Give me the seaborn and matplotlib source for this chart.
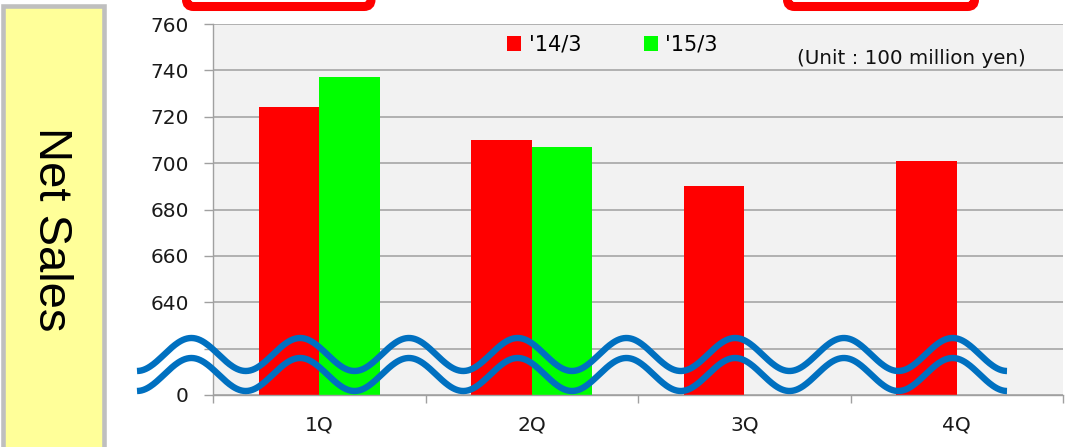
import matplotlib
matplotlib.use("Agg")
import matplotlib.pyplot as plt
import seaborn as sns
import numpy as np
import pandas as pd
from matplotlib.patches import Rectangle, FancyBboxPatch, Patch
from matplotlib.lines import Line2D
from matplotlib.transforms import Affine2D

# ---- data -------------------------------------------------------------
quarters = ["1Q", "2Q", "3Q", "4Q"]
series_labels = ["'14/3", "'15/3"]
fy14_sales = [724, 710, 690, 701]
fy15_sales = [737, 707]          # only the first two quarters reported
y_ticks = [600, 620, 640, 660, 680, 700, 720, 740, 760]
y_tick_labels = ["0", "", "640", "660", "680", "700", "720", "740", "760"]
bar_colors = ["#FF0000", "#00FF00"]

rows = [(q, series_labels[0], v) for q, v in zip(quarters, fy14_sales)]
rows += [(q, series_labels[1], v) for q, v in zip(quarters, fy15_sales)]
df = pd.DataFrame(rows, columns=["quarter", "fiscal", "sales"])

# ---- figure -----------------------------------------------------------
W, H = 1072, 447
fig = plt.figure(figsize=(W / 100, H / 100), dpi=100)
# pixel coordinates measured from the top-left corner of the figure
px = Affine2D().scale(1 / W, -1 / H).translate(0, 1) + fig.transFigure

ax = fig.add_axes([213 / W, 1 - 395 / H, 850 / W, 371 / H])
ax.set_facecolor("#F2F2F2")
ax.set_axisbelow(True)

sns.barplot(data=df, x="quarter", y="sales", hue="fiscal",
            order=quarters, hue_order=series_labels, palette=bar_colors,
            saturation=1, width=0.57, errorbar=None, linewidth=0,
            legend=False, ax=ax)

ax.set_xlim(-0.5, 3.5)
ax.set_ylim(600, 760)
ax.set_yticks(y_ticks)
ax.set_yticklabels(y_tick_labels)
ax.set_xticks(range(len(quarters)))
ax.set_xticklabels(quarters)
ax.set_xticks(np.arange(-0.5, len(quarters)), minor=True)
ax.set_xlabel("")
ax.set_ylabel("")

tick_grey = "#A0A0A0"
ax.tick_params(axis="y", length=6.5, width=1, color=tick_grey, pad=11,
               labelsize=14.5, labelcolor="#1A1A1A")
ax.tick_params(axis="x", which="major", length=0, pad=15,
               labelsize=14.5, labelcolor="#1A1A1A")
ax.tick_params(axis="x", which="minor", length=5.8, width=1, color=tick_grey)
ax.grid(axis="y", color="#A6A6A6", lw=1.2)
ax.grid(axis="x", visible=False)
for side in ("top", "right"):
    ax.spines[side].set_visible(False)
for side in ("left", "bottom"):
    ax.spines[side].set_color(tick_grey)
    ax.spines[side].set_linewidth(1.0)

# legend with square swatches
handles = [Patch(facecolor=c, edgecolor="none") for c in bar_colors]
ax.legend(handles, series_labels, ncol=2, loc="center left",
          bbox_to_anchor=(506.7 / W, 1 - 44.5 / H), bbox_transform=fig.transFigure,
          frameon=False, fontsize=15, handlelength=0.7, handleheight=0.7,
          handletextpad=0.35, columnspacing=3.0, borderpad=0, borderaxespad=0)

fig.text(797 / W, 1 - 59 / H, "(Unit : 100 million yen)", fontsize=14.3,
         ha="left", va="center", color="#111111")

# side panel with the metric name
fig.add_artist(Rectangle((2.5, 5.5), 101, 470, transform=px,
                         facecolor="#FFFF99", edgecolor="#BFBFBF", lw=3.3))
fig.text(51 / W, 1 - 229 / H, "Net Sales", rotation=270, ha="center",
         va="center", fontsize=34, family="Liberation Sans", color="black")

# red framed boxes along the top edge
for x0, x1 in [(186.5, 371), (787.5, 974.5)]:
    fig.add_artist(FancyBboxPatch((x0, -40), x1 - x0, 46.5,
                                  boxstyle="round,pad=0,rounding_size=7",
                                  transform=px, facecolor="white",
                                  edgecolor="#FF0000", lw=6.5))

# double wavy axis-break mark
x_start, x_end, n_waves = 137, 1007, 8
period = (x_end - x_start) / n_waves
xw = np.linspace(x_start, x_end, 800)
upper = 354.5 + 16.5 * np.cos(2 * np.pi * (xw - x_start) / period)
for offset in (0, 20):
    fig.add_artist(Line2D(xw, upper + offset, transform=px, color="#0070C0",
                          lw=4.6, solid_capstyle="butt"))

fig.savefig("out.png", dpi=100)
